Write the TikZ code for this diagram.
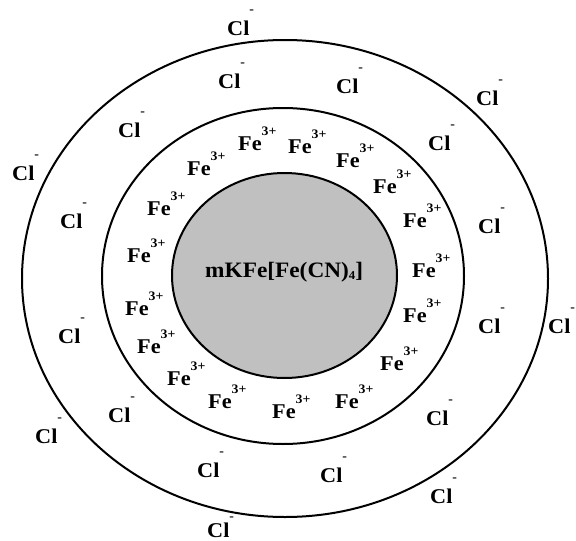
\documentclass[tikz,border=0pt]{standalone}
\usepackage{fontspec}
\setmainfont{Liberation Serif}[FakeStretch=1.06]
\usetikzlibrary{positioning}
\definecolor{coregray}{RGB}{192,192,192}
\newcommand{\clion}[1][22pt]{Cl\raisebox{#1}{\fontsize{13}{13}\selectfont -}}
\newcommand{\feion}{Fe\raisebox{15pt}{\fontsize{13}{13}\selectfont 3+}}

\begin{document}
\begin{tikzpicture}[x=1pt,y=-1pt,
  ion/.style={anchor=base west, inner sep=0pt, font=\bfseries\fontsize{21}{24}\selectfont},
  shell/.style={line width=2pt}]
  \useasboundingbox (0,0) rectangle (576,541);
  % shells
  \draw[shell] (285,278.5) ellipse [x radius=263, y radius=238.5];
  \draw[shell] (283,276) ellipse [x radius=181, y radius=168];
  \draw[shell, fill=coregray] (284.5,275.5) ellipse [x radius=112.5, y radius=102.5];
  % core
  \node[ion, font=\bfseries\fontsize{22}{24}\selectfont] (core) at (205,277)
    {mKFe[Fe(CN)\raisebox{-2pt}{\fontsize{12}{12}\selectfont 4}]};
  % Fe3+ layer
  \foreach \x/\y [count=\i] in {238/150, 187/175, 147/215, 127/262, 288/153, 336/167,
      373/193, 403/227, 412/277, 403/322, 380/370, 335/408, 272/418, 208/408,
      167/385, 137/353, 125/315}
    \node[ion] (fe\i) at (\x,\y) {\feion};
  % Cl- layer
  \foreach \x/\y [count=\i] in {227/35, 218/88, 118/137, 12/180, 60/228, 336/93,
      476/105, 428/150, 478/233, 58/343, 108/422, 35/443, 197/477,
      478/333, 548/333, 426/425, 320/482, 430/503}
    \node[ion] (cl\i) at (\x,\y) {\clion};
  \node[ion] (clbottom) at (207,537) {\clion[17pt]};
\end{tikzpicture}
\end{document}
